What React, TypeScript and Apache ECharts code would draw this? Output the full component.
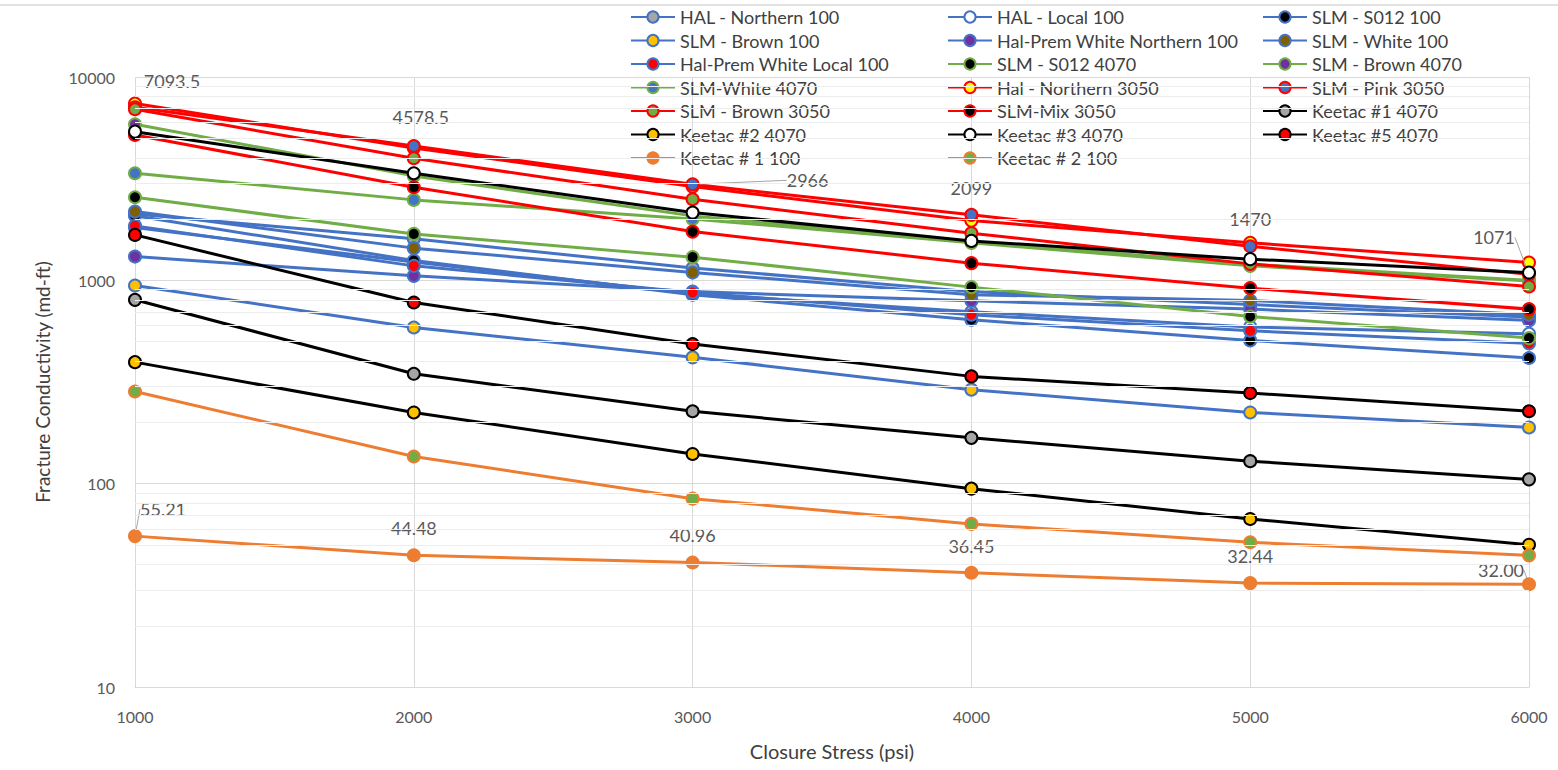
import React, { useEffect, useRef } from "react";
import * as echarts from "echarts";

const stressPsi = [1000, 2000, 3000, 4000, 5000, 6000];
const yTickValues = [10, 100, 1000, 10000];
const minorGridValues = [
  20, 30, 40, 50, 60, 70, 80, 90,
  200, 300, 400, 500, 600, 700, 800, 900,
  2000, 3000, 4000, 5000, 6000, 7000, 8000, 9000,
];

const halNorthern100 = [2120, 1600, 1150, 880, 760, 660];
const halLocal100 = [1820, 1230, 860, 700, 590, 546];
const slmS012_100 = [2080, 1251, 850, 640, 506, 415];
const slmBrown100 = [943, 586, 418, 290, 224, 189];
const halPremWhiteNorthern100 = [1309, 1052, 880, 793, 722, 635];
const slmWhite100 = [2178, 1440, 1092, 850, 796, 677];
const halPremWhiteLocal100 = [1853, 1178, 871, 677, 565, 490];
const slmS012_4070 = [2563, 1692, 1300, 926, 664, 520];
const slmBrown4070 = [5856, 3263, 2075, 1550, 1200, 1000];
const slmWhite4070 = [3364, 2487, 2005, 1529, 1178, 994];
const halNorthern3050 = [7400, 4480, 2891, 1967, 1530, 1223];
const slmPink3050 = [7093.5, 4578.5, 2966, 2099, 1470, 1071];
const slmBrown3050 = [6938, 3986, 2506, 1706, 1205, 932];
const slmMix3050 = [5188, 2871, 1737, 1215, 915, 722];
const keetac1_4070 = [802, 347, 227, 168, 129, 105];
const keetac2_4070 = [396, 224, 140, 94.5, 67, 50.1];
const keetac3_4070 = [5384, 3364, 2154, 1563, 1271, 1092];
const keetac5_4070 = [1673, 778, 486, 337, 279, 227];
const keetac1_100 = [55.21, 44.48, 40.96, 36.45, 32.44, 32.0];
const keetac2_100 = [284, 136, 84.4, 63.4, 51.5, 44.4];

const BLUE = "#4472C4";
const GREEN = "#70AD47";
const RED = "#FF0000";
const BLACK = "#000000";
const ORANGE = "#ED7D31";

const seriesDefs = [
  { name: "HAL - Northern 100", data: halNorthern100, line: BLUE, fill: "#A5A5A5" },
  { name: "HAL - Local 100", data: halLocal100, line: BLUE, fill: "#FFFFFF" },
  { name: "SLM - S012 100", data: slmS012_100, line: BLUE, fill: "#000000" },
  { name: "SLM - Brown 100", data: slmBrown100, line: BLUE, fill: "#FFC000" },
  { name: "Hal-Prem White Northern 100", data: halPremWhiteNorthern100, line: BLUE, fill: "#7030A0" },
  { name: "SLM - White 100", data: slmWhite100, line: BLUE, fill: "#7F6000" },
  { name: "Hal-Prem White Local 100", data: halPremWhiteLocal100, line: BLUE, fill: "#FF0000" },
  { name: "SLM - S012 4070", data: slmS012_4070, line: GREEN, fill: "#000000" },
  { name: "SLM - Brown 4070", data: slmBrown4070, line: GREEN, fill: "#7030A0" },
  { name: "SLM-White 4070", data: slmWhite4070, line: GREEN, fill: "#4472C4" },
  { name: "Hal - Northern 3050", data: halNorthern3050, line: RED, fill: "#FFFF00" },
  { name: "SLM - Pink 3050", data: slmPink3050, line: RED, fill: "#4472C4" },
  { name: "SLM - Brown 3050", data: slmBrown3050, line: RED, fill: "#70AD47" },
  { name: "SLM-Mix 3050", data: slmMix3050, line: RED, fill: "#000000" },
  { name: "Keetac #1 4070", data: keetac1_4070, line: BLACK, fill: "#A5A5A5" },
  { name: "Keetac #2 4070", data: keetac2_4070, line: BLACK, fill: "#FFC000" },
  { name: "Keetac #3 4070", data: keetac3_4070, line: BLACK, fill: "#FFFFFF" },
  { name: "Keetac #5 4070", data: keetac5_4070, line: BLACK, fill: "#FF0000" },
  { name: "Keetac # 1 100", data: keetac1_100, line: ORANGE, fill: "#ED7D31" },
  { name: "Keetac # 2 100", data: keetac2_100, line: ORANGE, fill: "#70AD47" },
];

const labeledSeries: Record<string, { fmt: (v: number) => string; moves: Record<number, [number, number]>; guides: number[] }> = {
  "SLM - Pink 3050": {
    fmt: (v) => String(v),
    moves: { 0: [37, 1], 1: [7, -2], 2: [115, 23], 5: [-35, -10] },
    guides: [2, 5],
  },
  "Keetac # 1 100": {
    fmt: (v) => v.toFixed(2),
    moves: { 0: [28, 0], 5: [-28, 13] },
    guides: [0, 5],
  },
};

const FONT = "Lato";
const TXT = "#595959";

export default function App() {
  const ref = useRef<HTMLDivElement>(null);
  useEffect(() => {
    if (!ref.current) return;
    const chart = echarts.init(ref.current, undefined, { renderer: "svg" });

    const series: any[] = [
      {
        name: "__minor",
        type: "line",
        data: [],
        silent: true,
        markLine: {
          silent: true,
          symbol: ["none", "none"],
          label: { show: false },
          lineStyle: { color: "#EDEDED", type: "solid", width: 1 },
          data: minorGridValues.map((v) => ({ yAxis: v })),
          animation: false,
        },
        z: 0,
      },
    ];

    seriesDefs.forEach((s, si) => {
      const lab = labeledSeries[s.name];
      const data = s.data.map((v, i) => {
        const item: any = { value: [stressPsi[i], v] };
        if (lab && lab.guides.includes(i)) {
          item.labelLine = { show: true, lineStyle: { color: "#A6A6A6", width: 1 } };
        }
        return item;
      });
      const ser: any = {
        name: s.name,
        type: "line",
        data,
        symbol: "circle",
        symbolSize: 12,
        lineStyle: { color: s.line, width: 3 },
        itemStyle: { color: s.fill, borderColor: s.line, borderWidth: 2 },
        emphasis: { disabled: true },
        z: 2 + si * 0.01,
      };
      if (lab) {
        ser.label = {
          show: true,
          position: "top",
          distance: 11,
          color: TXT,
          fontSize: 18,
          fontFamily: FONT,
          formatter: (p: any) => lab.fmt(p.value[1]),
        };
        ser.labelLine = { show: false };
        ser.labelLayout = (p: any) => {
          const m = lab.moves[p.dataIndex];
          return m ? { dx: m[0], dy: m[1] } : {};
        };
      }
      series.push(ser);
    });

    const names = seriesDefs.map((s) => s.name);
    const col = (c: number) => names.filter((_, i) => i % 3 === c);
    const legendBase = {
      orient: "vertical",
      top: 8,
      itemWidth: 44,
      itemHeight: 14,
      itemGap: 5.5,
      padding: 0,
      textStyle: { fontSize: 18, fontFamily: FONT, color: "#404040" },
      selectedMode: false,
    };

    chart.setOption({
      animation: false,
      textStyle: { fontFamily: FONT },
      graphic: [
        {
          type: "line",
          shape: { x1: 0, y1: 5, x2: 1558, y2: 5 },
          style: { stroke: "#D9D9D9", lineWidth: 1.5 },
        },
      ],
      legend: [
        { ...legendBase, left: 630, data: col(0) },
        { ...legendBase, left: 947, data: col(1) },
        { ...legendBase, left: 1262, data: col(2) },
      ],
      grid: { left: 135, right: 29, top: 77, bottom: 83, containLabel: false },
      xAxis: {
        type: "value",
        min: 1000,
        max: 6000,
        interval: 1000,
        name: "Closure Stress (psi)",
        nameLocation: "middle",
        nameGap: 54,
        nameTextStyle: { fontSize: 20, color: "#404040", fontFamily: FONT },
        axisLine: { show: true, lineStyle: { color: "#D9D9D9", width: 1 } },
        axisTick: { show: false },
        axisLabel: { fontSize: 16, color: TXT, margin: 21, fontFamily: FONT, formatter: (v: number) => String(v) },
        splitLine: { show: true, lineStyle: { color: "#D9D9D9", width: 1 } },
      },
      yAxis: {
        type: "log",
        logBase: 10,
        min: yTickValues[0],
        max: yTickValues[yTickValues.length - 1],
        name: "Fracture Conductivity (md-ft)",
        nameLocation: "middle",
        nameGap: 83,
        nameTextStyle: { fontSize: 19, color: "#404040", fontFamily: FONT },
        axisLine: { show: false },
        axisTick: { show: false },
        axisLabel: { fontSize: 16, color: TXT, margin: 20, fontFamily: FONT, formatter: (v: number) => String(v) },
        splitLine: { show: true, lineStyle: { color: "#D9D9D9", width: 1 } },
      },
      series,
    });
    return () => chart.dispose();
  }, []);
  return (
    <div
      ref={ref}
      style={{ position: "absolute", left: 0, top: 0, width: 1558, height: 770, background: "#FFFFFF" }}
    />
  );
}
